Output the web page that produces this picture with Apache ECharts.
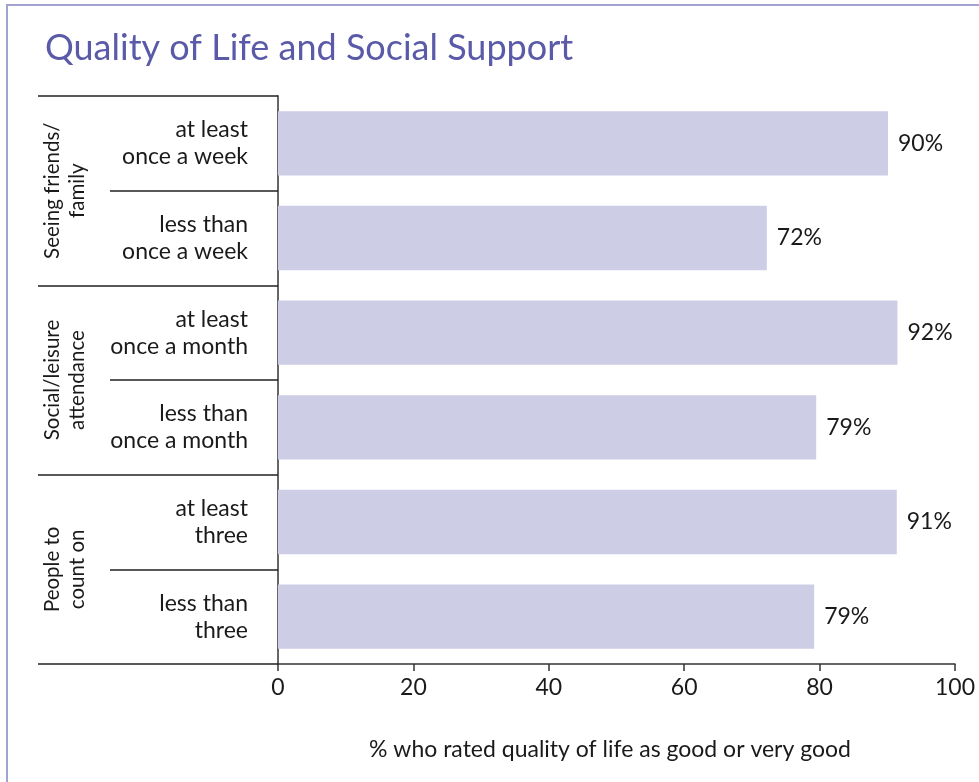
<!DOCTYPE html>
<html>
<head>
<meta charset="utf-8">
<title>Quality of Life and Social Support</title>
<script src="https://cdn.jsdelivr.net/npm/echarts@6/dist/echarts.min.js"></script>
<style>
  html, body { margin: 0; padding: 0; background: #fff; }
  #wrap { position: relative; width: 979px; height: 782px; }
  #chart { width: 979px; height: 782px; }
  #frame {
    position: absolute; left: 6px; top: 4px; right: 0; bottom: 0;
    border-left: 2px solid #a3a3d3; border-top: 2px solid #a3a3d3;
    pointer-events: none;
  }
</style>
</head>
<body>
<div id="wrap">
  <div id="chart"></div>
  <div id="frame"></div>
</div>
<script>
// data
const categories = [
  "at least\nonce a week",
  "less than\nonce a week",
  "at least\nonce a month",
  "less than\nonce a month",
  "at least\nthree",
  "less than\nthree"
];
const groups = [
  "Seeing friends/\nfamily",
  "Social/leisure\nattendance",
  "People to\ncount on"
];
const values = [90.1, 72.2, 91.5, 79.5, 91.4, 79.2];
const valueLabels = ["90%", "72%", "92%", "79%", "91%", "79%"];
const xTicks = [0, 20, 40, 60, 80, 100];

const FONT = "Lato";
const TXT = "#1a1a1a";

const chart = echarts.init(document.getElementById("chart"));

const option = {
  animation: false,
  title: {
    text: "Quality of Life and Social Support",
    left: 40,
    top: 25,
    textStyle: { fontFamily: FONT, fontSize: 36, fontWeight: "normal", color: "#5a5aa8" }
  },
  grid: { left: 278, right: 24, top: 96, bottom: 118, containLabel: false },
  xAxis: {
    type: "value",
    min: xTicks[0],
    max: xTicks[xTicks.length - 1],
    interval: xTicks[1] - xTicks[0],
    splitLine: { show: false },
    axisLine: { show: true, lineStyle: { color: "#333", width: 1.5 } },
    axisTick: { show: true, length: 7, lineStyle: { color: "#333", width: 1.5 } },
    axisLabel: { fontFamily: FONT, fontSize: 23, color: TXT, margin: 12 },
    name: "% who rated quality of life as good or very good",
    nameLocation: "middle",
    nameGap: 74,
    nameTextStyle: {
      fontFamily: FONT, fontSize: 23, color: TXT, verticalAlign: "top",
      padding: [0, 13, 0, 0]
    }
  },
  yAxis: [
    {
      type: "category",
      data: categories,
      inverse: true,
      position: "left",
      axisLine: { show: true, lineStyle: { color: "#666", width: 2 } },
      axisTick: { show: true, interval: 0, length: 168, lineStyle: { color: "#222", width: 1.5 } },
      axisLabel: {
        interval: 0,
        fontFamily: FONT, fontSize: 23, color: TXT,
        margin: 30, align: "right", lineHeight: 27
      }
    },
    {
      type: "category",
      data: groups,
      inverse: true,
      position: "left",
      axisLine: { show: false },
      axisTick: { show: true, interval: 0, length: 240, lineStyle: { color: "#222", width: 1.5 } },
      axisLabel: {
        interval: 0,
        fontFamily: FONT, fontSize: 20.5, color: TXT,
        rotate: 90, margin: 188, lineHeight: 25
      }
    }
  ],
  series: [
    {
      type: "bar",
      data: values,
      yAxisIndex: 0,
      barCategoryGap: "32%",
      itemStyle: { color: "#cdcde5" },
      label: {
        show: true,
        position: "right",
        distance: 10,
        fontFamily: FONT, fontSize: 23, color: TXT,
        formatter: (p) => valueLabels[p.dataIndex]
      }
    }
  ]
};

chart.setOption(option);
</script>
</body>
</html>
